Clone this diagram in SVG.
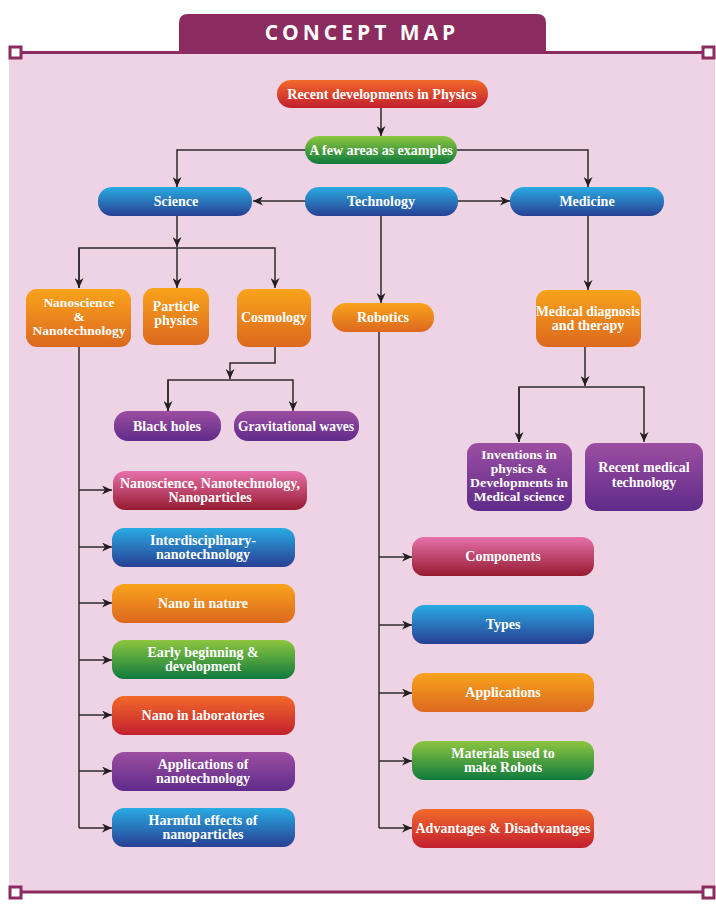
<svg xmlns="http://www.w3.org/2000/svg" width="716" height="905" viewBox="0 0 716 905">
<style>
.t{font-family:"Liberation Serif","Times New Roman",serif;font-weight:bold;font-size:14px;fill:#ffffff;text-anchor:middle}
.s{font-size:13.5px}
.c{fill:none;stroke:#2f2a2d;stroke-width:1.5}
.frame{stroke:#8b2b60;stroke-width:3;fill:none}
.sq{fill:#ffffff;stroke:#8b2b60;stroke-width:3}
</style>
<defs>
<linearGradient id="gRed" x1="0" y1="0" x2="0" y2="1"><stop offset="0" stop-color="#f26a2a"/><stop offset="1" stop-color="#c21f2f"/></linearGradient>
<linearGradient id="gGreen" x1="0" y1="0" x2="0" y2="1"><stop offset="0" stop-color="#8dc63f"/><stop offset="1" stop-color="#0f7a3d"/></linearGradient>
<linearGradient id="gBlue" x1="0" y1="0" x2="0" y2="1"><stop offset="0" stop-color="#29abe2"/><stop offset="1" stop-color="#283f94"/></linearGradient>
<linearGradient id="gOrange" x1="0" y1="0" x2="0" y2="1"><stop offset="0" stop-color="#f9a31b"/><stop offset="1" stop-color="#dc681f"/></linearGradient>
<linearGradient id="gPurple" x1="0" y1="0" x2="0" y2="1"><stop offset="0" stop-color="#9c4ea1"/><stop offset="1" stop-color="#5f2b8a"/></linearGradient>
<linearGradient id="gPink" x1="0" y1="0" x2="0" y2="1"><stop offset="0" stop-color="#e670aa"/><stop offset="1" stop-color="#961b30"/></linearGradient>
<marker id="ah" markerWidth="11" markerHeight="9" refX="10" refY="4.5" orient="auto" markerUnits="userSpaceOnUse">
<path d="M0,0 L10,4.5 L0,9 L3,4.5 z" fill="#231f20"/>
</marker>
</defs>

<!-- frame -->
<rect x="9" y="52" width="706" height="840" fill="#eed3e5"/>
<path d="M179,52 L179,23 Q179,14 188,14 L537,14 Q546,14 546,23 L546,52 z" fill="#8b2b60"/>
<text x="362" y="40" style="font-family:'Open Sans','Liberation Sans',sans-serif;font-weight:bold;font-size:21px;fill:#ffffff;text-anchor:middle;letter-spacing:4px">CONCEPT MAP</text>
<line class="frame" x1="15" y1="52.5" x2="708" y2="52.5"/>
<line class="frame" x1="15" y1="892" x2="708" y2="892"/>
<rect class="sq" x="10" y="47" width="11" height="11"/>
<rect class="sq" x="703" y="47" width="11" height="11"/>
<rect class="sq" x="10" y="887" width="11" height="11"/>
<rect class="sq" x="703" y="887" width="11" height="11"/>

<!-- connectors -->
<g id="connectors">
<path class="c" d="M381,108 V136" marker-end="url(#ah)"/>
<path class="c" d="M305,150 H177 V187" marker-end="url(#ah)"/>
<path class="c" d="M457,150 H588 V187" marker-end="url(#ah)"/>
<path class="c" d="M305,201 H253" marker-end="url(#ah)"/>
<path class="c" d="M457,201 H510" marker-end="url(#ah)"/>
<path class="c" d="M177,216 V247"  marker-end="url(#ah)"/>
<path class="c" d="M79,288 V248 H275 V288" marker-end="url(#ah)"/>
<path class="c" d="M79,248 V288" marker-end="url(#ah)"/>
<path class="c" d="M177,248 V288" marker-end="url(#ah)"/>
<path class="c" d="M381,216 V303" marker-end="url(#ah)"/>
<path class="c" d="M588,216 V290" marker-end="url(#ah)"/>
<path class="c" d="M275,347 V363 H230 V379" marker-end="url(#ah)"/>
<path class="c" d="M168,411 V380 H293 V411" marker-end="url(#ah)"/>
<path class="c" d="M168,380 V411" marker-end="url(#ah)"/>
<path class="c" d="M585,347 V386" marker-end="url(#ah)"/>
<path class="c" d="M519,442 V387 H644 V442" marker-end="url(#ah)"/>
<path class="c" d="M519,387 V442" marker-end="url(#ah)"/>
<path class="c" d="M79,347 V828"/>
<path class="c" d="M79,490 H112" marker-end="url(#ah)"/>
<path class="c" d="M79,547 H112" marker-end="url(#ah)"/>
<path class="c" d="M79,603 H112" marker-end="url(#ah)"/>
<path class="c" d="M79,660 H112" marker-end="url(#ah)"/>
<path class="c" d="M79,715 H112" marker-end="url(#ah)"/>
<path class="c" d="M79,771 H112" marker-end="url(#ah)"/>
<path class="c" d="M79,828 H112" marker-end="url(#ah)"/>
<path class="c" d="M379,332 V828"/>
<path class="c" d="M379,557 H412" marker-end="url(#ah)"/>
<path class="c" d="M379,625 H412" marker-end="url(#ah)"/>
<path class="c" d="M379,693 H412" marker-end="url(#ah)"/>
<path class="c" d="M379,761 H412" marker-end="url(#ah)"/>
<path class="c" d="M379,828 H412" marker-end="url(#ah)"/>
</g>

<!-- nodes -->
<g id="n-recent"><rect x="277" y="80" width="211" height="28" rx="14" fill="url(#gRed)"/><text class="t" x="382" y="99">Recent developments in Physics</text></g>
<g id="n-areas"><rect x="305" y="136" width="152" height="28" rx="14" fill="url(#gGreen)"/><text class="t" x="381" y="155">A few areas as examples</text></g>
<g id="n-science"><rect x="98" y="187" width="154" height="29" rx="14" fill="url(#gBlue)"/><text class="t" x="176" y="206">Science</text></g>
<g id="n-technology"><rect x="305" y="187" width="153" height="29" rx="14" fill="url(#gBlue)"/><text class="t" x="381" y="206">Technology</text></g>
<g id="n-medicine"><rect x="510" y="187" width="154" height="29" rx="14" fill="url(#gBlue)"/><text class="t" x="587" y="206">Medicine</text></g>

<g id="n-nano"><rect x="26" y="289" width="105" height="58" rx="11" fill="url(#gOrange)"/><text class="t s" x="79" y="307">Nanoscience</text><text class="t s" x="79" y="321">&amp;</text><text class="t s" x="79" y="335">Nanotechnology</text></g>
<g id="n-particle"><rect x="143" y="288" width="66" height="57" rx="11" fill="url(#gOrange)"/><text class="t" x="176" y="311">Particle</text><text class="t" x="176" y="325">physics</text></g>
<g id="n-cosmology"><rect x="237" y="289" width="74" height="58" rx="11" fill="url(#gOrange)"/><text class="t" x="274" y="322" textLength="66" lengthAdjust="spacingAndGlyphs">Cosmology</text></g>
<g id="n-robotics"><rect x="332" y="303" width="102" height="29" rx="14" fill="url(#gOrange)"/><text class="t" x="383" y="322">Robotics</text></g>
<g id="n-meddiag"><rect x="536" y="290" width="105" height="57" rx="11" fill="url(#gOrange)"/><text class="t" x="588" y="316" textLength="104" lengthAdjust="spacingAndGlyphs">Medical diagnosis</text><text class="t" x="588" y="330">and therapy</text></g>

<g id="n-blackholes"><rect x="114" y="411" width="107" height="30" rx="14" fill="url(#gPurple)"/><text class="t" x="167" y="431">Black holes</text></g>
<g id="n-gravwaves"><rect x="234" y="411" width="125" height="30" rx="14" fill="url(#gPurple)"/><text class="t" x="296" y="431" textLength="116" lengthAdjust="spacingAndGlyphs">Gravitational waves</text></g>
<g id="n-inventions"><rect x="467" y="443" width="105" height="68" rx="11" fill="url(#gPurple)"/><text class="t s" x="519" y="459">Inventions in</text><text class="t s" x="519" y="473">physics &amp;</text><text class="t s" x="519" y="487" textLength="98" lengthAdjust="spacingAndGlyphs">Developments in</text><text class="t s" x="519" y="501">Medical science</text></g>
<g id="n-recentmed"><rect x="585" y="443" width="118" height="68" rx="11" fill="url(#gPurple)"/><text class="t" x="644" y="472">Recent medical</text><text class="t" x="644" y="487">technology</text></g>

<g id="n-l1"><rect x="113" y="471" width="194" height="39" rx="12" fill="url(#gPink)"/><text class="t" x="210" y="488">Nanoscience, Nanotechnology,</text><text class="t" x="210" y="502">Nanoparticles</text></g>
<g id="n-l2"><rect x="112" y="528" width="183" height="39" rx="12" fill="url(#gBlue)"/><text class="t" x="203" y="545">Interdisciplinary-</text><text class="t" x="203" y="559">nanotechnology</text></g>
<g id="n-l3"><rect x="112" y="584" width="183" height="39" rx="12" fill="url(#gOrange)"/><text class="t" x="203" y="608">Nano in nature</text></g>
<g id="n-l4"><rect x="112" y="640" width="183" height="39" rx="12" fill="url(#gGreen)"/><text class="t" x="203" y="657">Early beginning &amp;</text><text class="t" x="203" y="671">development</text></g>
<g id="n-l5"><rect x="112" y="696" width="183" height="39" rx="12" fill="url(#gRed)"/><text class="t" x="203" y="720">Nano in laboratories</text></g>
<g id="n-l6"><rect x="112" y="752" width="183" height="39" rx="12" fill="url(#gPurple)"/><text class="t" x="203" y="769">Applications of</text><text class="t" x="203" y="783">nanotechnology</text></g>
<g id="n-l7"><rect x="112" y="808" width="183" height="39" rx="12" fill="url(#gBlue)"/><text class="t" x="203" y="825">Harmful effects of</text><text class="t" x="203" y="839">nanoparticles</text></g>

<g id="n-r1"><rect x="412" y="537" width="182" height="39" rx="12" fill="url(#gPink)"/><text class="t" x="503" y="561">Components</text></g>
<g id="n-r2"><rect x="412" y="605" width="182" height="39" rx="12" fill="url(#gBlue)"/><text class="t" x="503" y="629">Types</text></g>
<g id="n-r3"><rect x="412" y="673" width="182" height="39" rx="12" fill="url(#gOrange)"/><text class="t" x="503" y="697">Applications</text></g>
<g id="n-r4"><rect x="412" y="741" width="182" height="39" rx="12" fill="url(#gGreen)"/><text class="t" x="503" y="758">Materials used to</text><text class="t" x="503" y="772">make Robots</text></g>
<g id="n-r5"><rect x="412" y="809" width="182" height="39" rx="12" fill="url(#gRed)"/><text class="t" x="503" y="833">Advantages &amp; Disadvantages</text></g>
</svg>
